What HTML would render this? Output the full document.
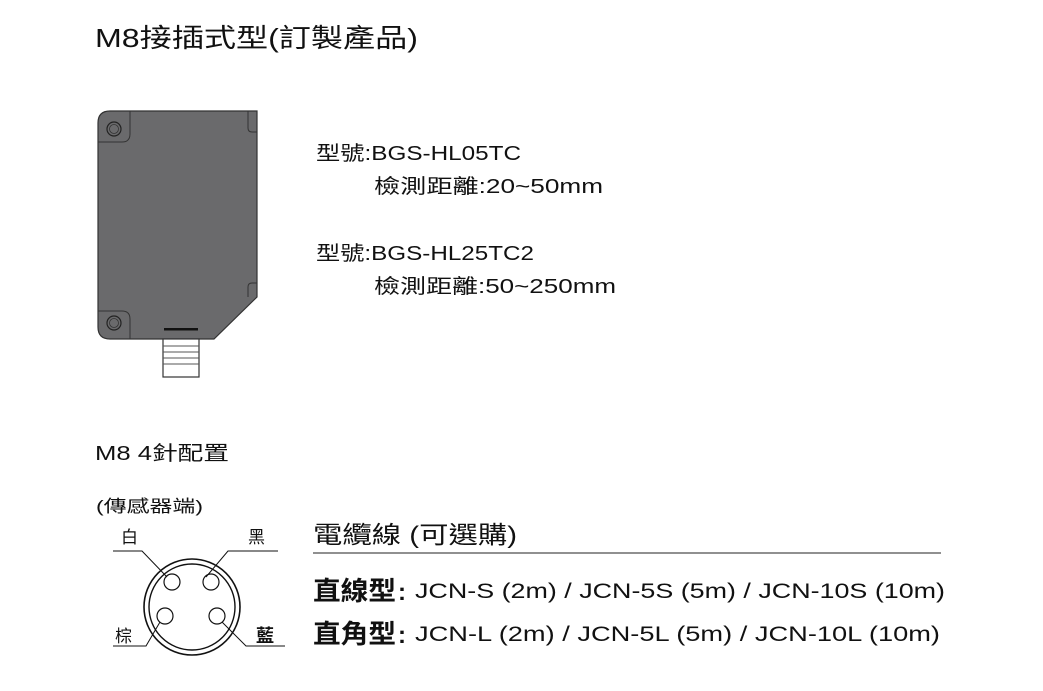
<!DOCTYPE html>
<html><head><meta charset="utf-8"><style>
html,body{margin:0;padding:0;background:#fff;}
svg{display:block;}
text{font-family:"Liberation Sans","Noto Sans CJK TC",sans-serif;fill:#111;}
</style></head><body>
<svg width="1043" height="691" viewBox="0 0 1043 691" xmlns="http://www.w3.org/2000/svg">
<text x="95" y="47" font-size="26" textLength="323" lengthAdjust="spacingAndGlyphs">M8接插式型(訂製產品)</text>

<!-- sensor body -->
<path d="M110,111 H257 V297 L214,339 H110 Q98,339 98,327 V123 Q98,111 110,111 Z" fill="#6a6a6c" stroke="#333" stroke-width="1.2"/>
<path d="M98,142 H122 Q130,142 130,134 V111" fill="none" stroke="#333" stroke-width="1"/>
<path d="M98,311 H122 Q130,311 130,319 V339" fill="none" stroke="#333" stroke-width="1"/>
<path d="M257,132 H252 Q248,132 248,128 V111" fill="none" stroke="#333" stroke-width="1"/>
<path d="M257,283 H252 Q248,283 248,287 V297" fill="none" stroke="#333" stroke-width="1"/>
<circle cx="114" cy="129" r="7" fill="#6a6a6c" stroke="#222" stroke-width="1.2"/>
<circle cx="114" cy="129" r="4.5" fill="none" stroke="#333" stroke-width="0.8"/>
<circle cx="114" cy="323" r="7" fill="#6a6a6c" stroke="#222" stroke-width="1.2"/>
<circle cx="114" cy="323" r="4.5" fill="none" stroke="#333" stroke-width="0.8"/>
<rect x="164" y="328" width="34" height="2.5" fill="#111"/>
<rect x="163" y="339" width="36" height="38" fill="#fff" stroke="#333" stroke-width="1.2"/>
<line x1="163" y1="346" x2="199" y2="346" stroke="#555"/>
<line x1="163" y1="352" x2="199" y2="352" stroke="#555"/>
<line x1="163" y1="358" x2="199" y2="358" stroke="#555"/>
<line x1="163" y1="364" x2="199" y2="364" stroke="#555"/>

<text x="316" y="160" font-size="20" textLength="205" lengthAdjust="spacingAndGlyphs">型號:BGS-HL05TC</text>
<text x="374" y="193" font-size="20" textLength="229" lengthAdjust="spacingAndGlyphs">檢測距離:20~50mm</text>
<text x="316" y="260" font-size="20" textLength="218" lengthAdjust="spacingAndGlyphs">型號:BGS-HL25TC2</text>
<text x="374" y="293" font-size="20" textLength="242" lengthAdjust="spacingAndGlyphs">檢測距離:50~250mm</text>

<text x="95" y="460" font-size="20" textLength="134" lengthAdjust="spacingAndGlyphs">M8 4針配置</text>
<text x="96" y="512" font-size="17" textLength="107" lengthAdjust="spacingAndGlyphs">(傳感器端)</text>

<!-- pin diagram -->
<circle cx="192" cy="607" r="48" fill="none" stroke="#111" stroke-width="1.6"/>
<circle cx="192" cy="607" r="43" fill="none" stroke="#111" stroke-width="1.4"/>
<circle cx="172" cy="582" r="8" fill="none" stroke="#111" stroke-width="1.2"/>
<circle cx="211" cy="582" r="8" fill="none" stroke="#111" stroke-width="1.2"/>
<circle cx="165" cy="616" r="8" fill="none" stroke="#111" stroke-width="1.2"/>
<circle cx="217" cy="616" r="8" fill="none" stroke="#111" stroke-width="1.2"/>
<polyline points="113,551 142,551 167,577" fill="none" stroke="#111" stroke-width="1"/>
<polyline points="278,551 228,551 206,577" fill="none" stroke="#111" stroke-width="1"/>
<polyline points="113,646 146,646 160,622" fill="none" stroke="#111" stroke-width="1"/>
<polyline points="285,646 246,646 222,622" fill="none" stroke="#111" stroke-width="1"/>
<text x="121" y="543" font-size="17">白</text>
<text x="248" y="543" font-size="17">黑</text>
<text x="115" y="642" font-size="17">棕</text>
<text x="256" y="642" font-size="18" font-weight="bold">藍</text>

<!-- cable -->
<text x="313" y="543" font-size="24" textLength="204" lengthAdjust="spacingAndGlyphs">電纜線 (可選購)</text>
<line x1="313" y1="553" x2="941" y2="553" stroke="#222" stroke-width="1"/>
<text x="313" y="600" font-size="26" font-weight="bold" textLength="83" lengthAdjust="spacingAndGlyphs">直線型</text>
<text x="398" y="600" font-size="24" font-weight="bold">:</text>
<text x="415" y="598" font-size="21" textLength="530" lengthAdjust="spacingAndGlyphs">JCN-S (2m) / JCN-5S (5m) / JCN-10S (10m)</text>
<text x="313" y="643" font-size="26" font-weight="bold" textLength="83" lengthAdjust="spacingAndGlyphs">直角型</text>
<text x="398" y="643" font-size="24" font-weight="bold">:</text>
<text x="415" y="641" font-size="21" textLength="525" lengthAdjust="spacingAndGlyphs">JCN-L (2m) / JCN-5L (5m) / JCN-10L (10m)</text>
</svg>
</body></html>
